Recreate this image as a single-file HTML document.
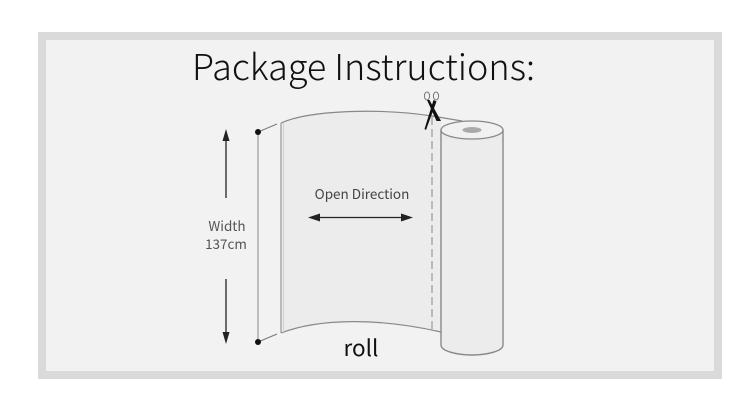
<!DOCTYPE html>
<html><head><meta charset="utf-8">
<style>
html,body{margin:0;padding:0;background:#fff;}
svg{display:block;}
text{font-family:"Noto Sans CJK SC","Liberation Sans",sans-serif;}
</style></head>
<body>
<svg width="750" height="401" viewBox="0 0 750 401" xmlns="http://www.w3.org/2000/svg">
  <rect x="0" y="0" width="750" height="401" fill="#ffffff"/>
  <rect x="38" y="32" width="684" height="347" fill="#dadada"/>
  <rect x="46" y="40" width="668" height="331" fill="#f2f2f2"/>

  <text x="192" y="80" font-size="36" font-weight="300" fill="#111" textLength="343" lengthAdjust="spacingAndGlyphs">Package Instructions:</text>

  <!-- sheet -->
  <path d="M281,123 C310,110 380,108 432,116 L441,118 L441,332 C380,318 320,318 281,333 Z" fill="#ececec"/>
  <path d="M281,123 C310,110 380,108 432,116 L462,121" fill="none" stroke="#888" stroke-width="1.2"/>
  <path d="M281,333 C320,318 380,318 441,332" fill="none" stroke="#888" stroke-width="1.2"/>
  <line x1="281" y1="123" x2="281" y2="333" stroke="#999" stroke-width="1.2"/>
  <line x1="283.5" y1="123" x2="283.5" y2="332" stroke="#d0d0d0" stroke-width="1"/>
  <line x1="432" y1="117" x2="432" y2="330" stroke="#999" stroke-width="1.2" stroke-dasharray="8,4"/>

  <!-- roll -->
  <path d="M441,130 L441,345 A31,10 0 0 0 503,345 L503,130 Z" fill="#ececec" stroke="#888" stroke-width="1.4"/>
  <ellipse cx="472" cy="130" rx="31" ry="9" fill="#f1f1f1" stroke="#888" stroke-width="1.3"/>
  <ellipse cx="472" cy="130" rx="9.5" ry="3" fill="#aaa"/>

  <!-- scissors -->
  <ellipse cx="427" cy="96" rx="2.6" ry="4" fill="none" stroke="#777" stroke-width="1"/>
  <ellipse cx="436" cy="96" rx="2.6" ry="4" fill="none" stroke="#777" stroke-width="1"/>
  <polygon points="433.5,100 436.5,101.5 426,130 424.5,129" fill="#111"/>
  <polygon points="427,100 429.5,100 441,121 436.5,121" fill="#111"/>

  <!-- width measure -->
  <line x1="258" y1="132" x2="258" y2="342" stroke="#999" stroke-width="1.2"/>
  <line x1="258" y1="132" x2="277" y2="124" stroke="#777" stroke-width="1"/>
  <line x1="258" y1="342" x2="277" y2="334" stroke="#777" stroke-width="1"/>
  <circle cx="258" cy="132" r="3" fill="#111"/>
  <circle cx="258" cy="342" r="3" fill="#111"/>

  <line x1="226" y1="198" x2="226" y2="137" stroke="#222" stroke-width="1.3"/>
  <polygon points="226,129 222.5,141 229.5,141" fill="#222"/>
  <line x1="226" y1="279" x2="226" y2="336" stroke="#222" stroke-width="1.3"/>
  <polygon points="226,344 222.5,332 229.5,332" fill="#222"/>

  <text x="227" y="231" font-size="13.5" fill="#555" text-anchor="middle">Width</text>
  <text x="226" y="249" font-size="13.5" fill="#555" text-anchor="middle">137cm</text>

  <!-- open direction -->
  <text x="362" y="199" font-size="13.5" fill="#444" text-anchor="middle">Open Direction</text>
  <line x1="315" y1="217.5" x2="406" y2="217.5" stroke="#222" stroke-width="1.3"/>
  <polygon points="308,217.5 320,213.5 320,221.5" fill="#222"/>
  <polygon points="413,217.5 401,213.5 401,221.5" fill="#222"/>

  <text x="361" y="356" font-size="22.5" fill="#111" text-anchor="middle">roll</text>
</svg>
</body></html>
